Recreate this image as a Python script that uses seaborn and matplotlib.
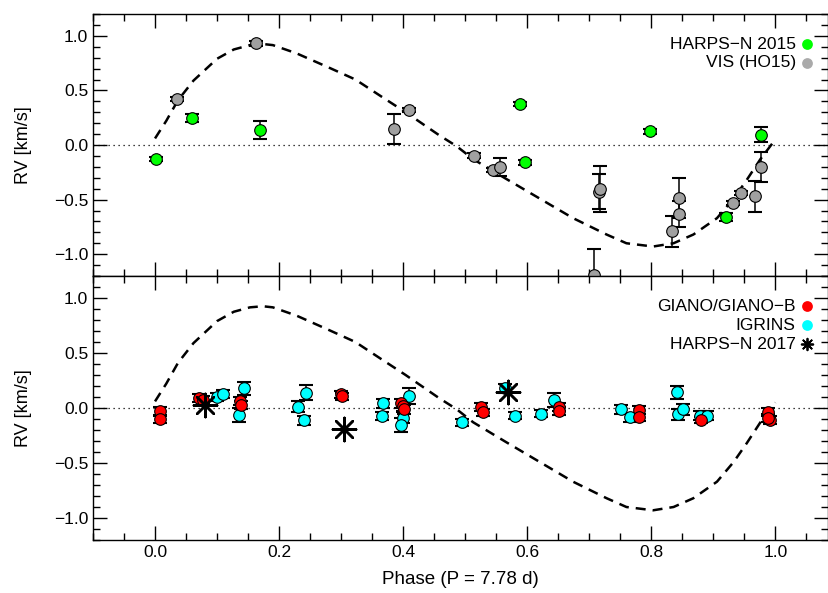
import matplotlib
matplotlib.use("Agg")
import matplotlib.pyplot as plt
import numpy as np
import pandas as pd
import seaborn as sns
from matplotlib.ticker import MultipleLocator


# model curve
model_phase = [0.0, 0.018, 0.037, 0.062, 0.081, 0.10, 0.127, 0.153, 0.174, 0.19,
               0.228, 0.28, 0.323, 0.366, 0.404, 0.458, 0.486, 0.513, 0.566, 0.62,
               0.674, 0.728, 0.76, 0.803, 0.836, 0.868, 0.906, 0.933, 0.954, 0.976, 1.0]
model_rv = [0.06, 0.22, 0.41, 0.59, 0.69, 0.79, 0.875, 0.915, 0.925, 0.915,
            0.84, 0.71, 0.60, 0.44, 0.30, 0.09, -0.01, -0.13, -0.31, -0.49,
            -0.67, -0.82, -0.90, -0.93, -0.90, -0.82, -0.67, -0.49, -0.32, -0.13, 0.05]

# top panel
harps15_phase = [0.001, 0.06, 0.169, 0.589, 0.596, 0.798, 0.921, 0.977]
harps15_rv = [-0.13, 0.245, 0.136, 0.373, -0.158, 0.125, -0.66, 0.094]
harps15_err = [0.02, 0.035, 0.08, 0.02, 0.025, 0.02, 0.035, 0.07]

vis_phase = [0.036, 0.163, 0.385, 0.41, 0.515, 0.545, 0.556, 0.707, 0.715, 0.718,
             0.834, 0.844, 0.844, 0.932, 0.945, 0.967, 0.977]
vis_rv = [0.42, 0.93, 0.145, 0.32, -0.097, -0.23, -0.20, -1.19, -0.43, -0.40,
          -0.79, -0.63, -0.485, -0.53, -0.44, -0.47, -0.20]
vis_err = [0.02, 0.02, 0.14, 0.02, 0.02, 0.02, 0.08, 0.24, 0.16, 0.21,
           0.14, 0.12, 0.18, 0.02, 0.02, 0.14, 0.14]

# bottom panel
giano_phase = [0.008, 0.0075, 0.071, 0.077, 0.137, 0.138, 0.30, 0.302, 0.397, 0.40,
               0.402, 0.526, 0.528, 0.652, 0.652, 0.781, 0.781, 0.881, 0.989, 0.991, 0.989]
giano_rv = [-0.03, -0.10, 0.088, 0.07, 0.064, 0.027, 0.125, 0.105, 0.042, 0.015,
            -0.01, 0.012, -0.04, 0.006, -0.03, -0.018, -0.085, -0.11, -0.034, -0.11, -0.09]
giano_err = [0.04, 0.04, 0.035, 0.035, 0.04, 0.04, 0.03, 0.03, 0.04, 0.04,
             0.04, 0.035, 0.035, 0.035, 0.035, 0.035, 0.035, 0.03, 0.035, 0.035, 0.035]

igrins_phase = [0.10, 0.109, 0.143, 0.136, 0.23, 0.243, 0.24, 0.367, 0.366, 0.409,
                0.399, 0.397, 0.495, 0.564, 0.58, 0.623, 0.644, 0.751, 0.765, 0.841,
                0.843, 0.852, 0.879, 0.89]
igrins_rv = [0.10, 0.127, 0.18, -0.064, 0.012, 0.14, -0.11, 0.042, -0.073, 0.11,
             -0.088, -0.155, -0.13, 0.18, -0.07, -0.05, 0.073, -0.012, -0.085, 0.143,
             -0.057, -0.012, -0.07, -0.07]
igrins_err = [0.04, 0.04, 0.06, 0.06, 0.05, 0.07, 0.04, 0.04, 0.04, 0.07,
              0.05, 0.06, 0.03, 0.04, 0.03, 0.03, 0.06, 0.04, 0.04, 0.06,
              0.05, 0.05, 0.04, 0.04]

harps17_phase = [0.081, 0.305, 0.569]
harps17_rv = [0.027, -0.19, 0.15]

GREEN = "#00ff00"
GRAY = "#a0a0a0"
RED = "#ff0000"
CYAN = "#00ffff"
ASTERISK = (8, 2, 0)

sns.set_style("ticks")
plt.rcParams["font.family"] = ["Liberation Sans", "DejaVu Sans"]
plt.rcParams["font.size"] = 12.5
plt.rcParams["text.color"] = "black"
plt.rcParams["axes.labelcolor"] = "black"
plt.rcParams["xtick.labelcolor"] = "black"
plt.rcParams["ytick.labelcolor"] = "black"


def draw_points(ax, phase, rv, err, color):
    ax.errorbar(phase, rv, yerr=err, fmt="none", ecolor="black",
                elinewidth=1.1, capsize=5, capthick=1.5, zorder=2)
    df = pd.DataFrame({"phase": phase, "rv": rv})
    sns.scatterplot(data=df, x="phase", y="rv", color=color, edgecolor="black",
                    linewidth=0.8, s=70, ax=ax, zorder=3)


def draw_model(ax):
    df = pd.DataFrame({"phase": model_phase, "rv": model_rv})
    sns.lineplot(data=df, x="phase", y="rv", color="black", linewidth=1.8,
                 linestyle=(0, (4, 2.8)), ax=ax, zorder=1)
    ax.axhline(0, color="black", linewidth=0.9, linestyle=(0, (1, 3)), zorder=0)


def style_axes(ax):
    ax.set_xlim(-0.1, 1.085)
    ax.set_ylim(-1.2, 1.2)
    ax.xaxis.set_major_locator(MultipleLocator(0.2))
    ax.xaxis.set_minor_locator(MultipleLocator(0.05))
    ax.yaxis.set_major_locator(MultipleLocator(0.5))
    ax.yaxis.set_minor_locator(MultipleLocator(0.1))
    ax.tick_params(which="both", direction="in", top=True, right=True,
                   width=1.0, color="black", labelcolor="black", labelsize=12.5)
    ax.tick_params(which="major", length=10)
    ax.tick_params(which="minor", length=5)
    for spine in ax.spines.values():
        spine.set_linewidth(1.0)
        spine.set_color("black")
    ax.set_ylabel("RV [km/s]", fontsize=13, color="black")
    ax.yaxis.set_label_coords(-0.083, 0.5)


def legend_entry(ax, y, label, color, marker="o", size=60):
    ax.text(0.956, y, label, transform=ax.transAxes, ha="right", va="center",
            fontsize=12.5, color="black")
    ax.scatter([0.972], [y], transform=ax.transAxes, s=size, marker=marker,
               color=color, linewidths=1.3 if marker != "o" else 0, clip_on=False)


fig = plt.figure(figsize=(8.29, 5.93), dpi=100)
ax_top = fig.add_axes([93 / 829, 1 - 276 / 593, 735 / 829, 262 / 593])
ax_bot = fig.add_axes([93 / 829, 1 - 540 / 593, 735 / 829, 264 / 593])

# top panel: optical data
draw_model(ax_top)
draw_points(ax_top, vis_phase, vis_rv, vis_err, GRAY)
draw_points(ax_top, harps15_phase, harps15_rv, harps15_err, GREEN)
style_axes(ax_top)
ax_top.set_xlabel("")
ax_top.set_xticklabels([])
legend_entry(ax_top, 0.885, "HARPS\u2212N 2015", GREEN)
legend_entry(ax_top, 0.813, "VIS (HO15)", "#aaaaaa")

# bottom panel: near-infrared data
draw_model(ax_bot)
draw_points(ax_bot, igrins_phase, igrins_rv, igrins_err, CYAN)
draw_points(ax_bot, giano_phase, giano_rv, giano_err, RED)
sns.scatterplot(x=harps17_phase, y=harps17_rv, marker=ASTERISK, color="black",
                s=280, linewidth=1.8, ax=ax_bot, zorder=4)
style_axes(ax_bot)
ax_bot.set_xlabel("Phase (P = 7.78 d)", fontsize=13.5, labelpad=8, color="black")
legend_entry(ax_bot, 0.886, "GIANO/GIANO\u2212B", RED)
legend_entry(ax_bot, 0.814, "IGRINS", CYAN)
legend_entry(ax_bot, 0.742, "HARPS\u2212N 2017", "black", marker=ASTERISK, size=70)

fig.savefig("out.png", dpi=100)
